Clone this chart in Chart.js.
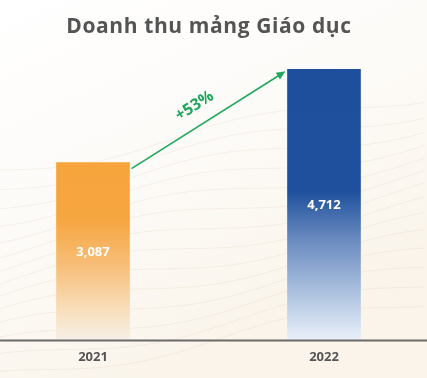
<!DOCTYPE html>
<html>
<head>
<meta charset="utf-8">
<script src="https://cdn.jsdelivr.net/npm/chart.js@4/dist/chart.umd.min.js"></script>
<style>
html,body{margin:0;padding:0;background:#fff;}
#wrap{width:427px;height:378px;position:relative;}
</style>
</head>
<body>
<div id="wrap"><canvas id="c" width="427" height="378"></canvas></div>
<script>
const title = 'Doanh thu mảng Giáo dục';
const categories = ['2021', '2022'];
const revenue = [3087, 4712];
const valueLabels = ['3,087', '4,712'];
const growthLabel = '+' + Math.round((revenue[1] / revenue[0] - 1) * 100) + '%';

const FONT = '"Open Sans", "DejaVu Sans", sans-serif';

function barGradient(context) {
  const chart = context.chart;
  const area = chart.chartArea;
  const i = context.dataIndex;
  if (!area || context.type !== 'data') return i === 0 ? '#F6A53D' : '#1D4F9C';
  const ys = chart.scales.y;
  const top = ys.getPixelForValue(context.raw);
  const bottom = ys.getPixelForValue(0);
  const g = chart.ctx.createLinearGradient(0, top, 0, bottom);
  if (i === 0) {
    g.addColorStop(0, '#F6A53D');
    g.addColorStop(0.32, '#F6A640');
    g.addColorStop(0.58, '#F7BE78');
    g.addColorStop(0.82, '#F8DDB8');
    g.addColorStop(1, '#F6F0E8');
  } else {
    g.addColorStop(0, '#1D4F9C');
    g.addColorStop(0.45, '#1E509D');
    g.addColorStop(0.62, '#6688BD');
    g.addColorStop(0.85, '#B5C8E3');
    g.addColorStop(1, '#EAF0F8');
  }
  return g;
}

const bgPlugin = {
  id: 'bg',
  beforeDraw(chart) {
    const ctx = chart.ctx;
    const w = chart.width, h = chart.height;
    ctx.save();
    const g = ctx.createLinearGradient(0, 0, w * 0.4, h);
    g.addColorStop(0, '#ffffff');
    g.addColorStop(0.5, '#fdfbf8');
    g.addColorStop(1, '#faf4ea');
    ctx.fillStyle = g;
    ctx.fillRect(0, 0, w, h);
    ctx.strokeStyle = 'rgba(225,208,185,0.28)';
    ctx.lineWidth = 1;
    for (let k = 0; k < 14; k++) {
      ctx.beginPath();
      const base = 170 + k * 16;
      for (let x = 0; x <= w; x += 4) {
        const y = base - x * 0.18 + Math.sin((x + k * 23) / 55) * 9;
        if (x === 0) ctx.moveTo(x, y); else ctx.lineTo(x, y);
      }
      ctx.stroke();
    }
    ctx.restore();
  }
};

const overlayPlugin = {
  id: 'overlay',
  afterDatasetsDraw(chart) {
    const ctx = chart.ctx;
    const meta = chart.getDatasetMeta(0);
    const ys = chart.scales.y;
    const base = ys.getPixelForValue(0);
    ctx.save();
    // baseline
    ctx.strokeStyle = '#6a6a6a';
    ctx.lineWidth = 2;
    ctx.beginPath();
    ctx.moveTo(0, base + 0.5);
    ctx.lineTo(chart.width, base + 0.5);
    ctx.stroke();

    // title
    ctx.fillStyle = '#545454';
    ctx.font = 'bold 21px ' + FONT;
    try { ctx.letterSpacing = '0.6px'; } catch (e) {}
    ctx.textAlign = 'center';
    ctx.textBaseline = 'middle';
    ctx.fillText(title, 209, 27);
    try { ctx.letterSpacing = '0px'; } catch (e) {}

    // value labels and categories
    meta.data.forEach((bar, i) => {
      ctx.fillStyle = '#ffffff';
      ctx.font = 'bold 13px ' + FONT;
      ctx.textAlign = 'center';
      ctx.textBaseline = 'middle';
      ctx.fillText(valueLabels[i], bar.x, (bar.y + bar.base) / 2 + 1);
      ctx.fillStyle = '#555555';
      ctx.font = 'bold 13px ' + FONT;
      ctx.fillText(categories[i], bar.x, base + 17);
    });

    // arrow
    const b0 = meta.data[0], b1 = meta.data[1];
    const x0 = b0.x + b0.width / 2 + 2, y0 = b0.y + 6;
    const x1 = b1.x - b1.width / 2 - 2, y1 = b1.y + 2;
    const ang = Math.atan2(y1 - y0, x1 - x0);
    ctx.strokeStyle = '#22A85E';
    ctx.fillStyle = '#22A85E';
    ctx.lineWidth = 1.6;
    ctx.beginPath();
    ctx.moveTo(x0, y0);
    ctx.lineTo(x1 - 6 * Math.cos(ang), y1 - 6 * Math.sin(ang));
    ctx.stroke();
    ctx.beginPath();
    ctx.moveTo(x1, y1);
    ctx.lineTo(x1 - 9 * Math.cos(ang) + 4 * Math.sin(ang), y1 - 9 * Math.sin(ang) - 4 * Math.cos(ang));
    ctx.lineTo(x1 - 9 * Math.cos(ang) - 4 * Math.sin(ang), y1 - 9 * Math.sin(ang) + 4 * Math.cos(ang));
    ctx.closePath();
    ctx.fill();

    // growth label
    const mx = (x0 + x1) / 2 - 14, my = (y0 + y1) / 2 - 14;
    ctx.translate(mx, my);
    ctx.rotate(ang);
    ctx.font = 'bold 16px ' + FONT;
    ctx.fillStyle = '#1FA55B';
    ctx.textAlign = 'center';
    ctx.textBaseline = 'middle';
    ctx.fillText(growthLabel, 0, 0);
    ctx.restore();
  }
};

new Chart(document.getElementById('c'), {
  type: 'bar',
  data: {
    labels: categories,
    datasets: [{
      data: revenue,
      backgroundColor: barGradient,
      borderWidth: 0,
      barThickness: 73,
      clip: false
    }]
  },
  options: {
    responsive: false,
    animation: false,
    devicePixelRatio: 1,
    layout: { padding: { left: 93, right: 103, top: 40, bottom: 38 } },
    plugins: { legend: { display: false }, tooltip: { enabled: false }, title: { display: false } },
    scales: {
      x: { display: false, offset: false },
      y: { display: false, min: 0, max: 5222 }
    }
  },
  plugins: [bgPlugin, overlayPlugin]
});
</script>
</body>
</html>
